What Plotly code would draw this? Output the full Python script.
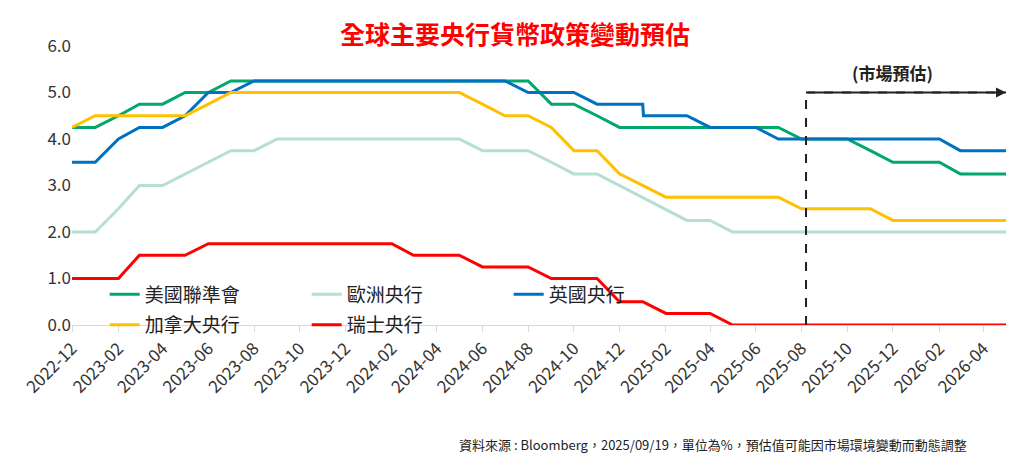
import plotly.graph_objects as go
import pandas as pd

months = pd.date_range("2022-12-01", "2026-05-01", freq="MS")

fed = [4.25, 4.25, 4.5, 4.75, 4.75, 5.0, 5.0, 5.25, 5.25, 5.25, 5.25, 5.25, 5.25, 5.25,
       5.25, 5.25, 5.25, 5.25, 5.25, 5.25, 5.25, 4.75, 4.75, 4.5, 4.25, 4.25, 4.25, 4.25,
       4.25, 4.25, 4.25, 4.25, 4.0, 4.0, 4.0, 3.75, 3.5, 3.5, 3.5, 3.25, 3.25, 3.25]
ecb = [2.0, 2.0, 2.5, 3.0, 3.0, 3.25, 3.5, 3.75, 3.75, 4.0, 4.0, 4.0, 4.0, 4.0,
       4.0, 4.0, 4.0, 4.0, 3.75, 3.75, 3.75, 3.5, 3.25, 3.25, 3.0, 2.75, 2.5, 2.25,
       2.25, 2.0, 2.0, 2.0, 2.0, 2.0, 2.0, 2.0, 2.0, 2.0, 2.0, 2.0, 2.0, 2.0]
boc = [4.25, 4.5, 4.5, 4.5, 4.5, 4.5, 4.75, 5.0, 5.0, 5.0, 5.0, 5.0, 5.0, 5.0,
       5.0, 5.0, 5.0, 5.0, 4.75, 4.5, 4.5, 4.25, 3.75, 3.75, 3.25, 3.0, 2.75, 2.75,
       2.75, 2.75, 2.75, 2.75, 2.5, 2.5, 2.5, 2.5, 2.25, 2.25, 2.25, 2.25, 2.25, 2.25]
snb = [1.0, 1.0, 1.0, 1.5, 1.5, 1.5, 1.75, 1.75, 1.75, 1.75, 1.75, 1.75, 1.75, 1.75,
       1.75, 1.5, 1.5, 1.5, 1.25, 1.25, 1.25, 1.0, 1.0, 1.0, 0.5, 0.5, 0.25, 0.25,
       0.25, 0.0, 0.0, 0.0, 0.0, 0.0, 0.0, 0.0, 0.0, 0.0, 0.0, 0.0, 0.0, 0.0]
# BoE has a same-month cut in 2025-01, so it keeps its own date list
boe_dates = sorted(list(months) + [pd.Timestamp("2025-01-02")])
boe = [3.5, 3.5, 4.0, 4.25, 4.25, 4.5, 5.0, 5.0, 5.25, 5.25, 5.25, 5.25, 5.25, 5.25,
       5.25, 5.25, 5.25, 5.25, 5.25, 5.25, 5.0, 5.0, 5.0, 4.75, 4.75, 4.75, 4.5, 4.5,
       4.5, 4.25, 4.25, 4.25, 4.0, 4.0, 4.0, 4.0, 4.0, 4.0, 4.0, 4.0, 3.75, 3.75, 3.75]

forecast_start = pd.Timestamp("2025-08-07")
forecast_level = 5.0

series = [
    ("美國聯準會", months, fed, "#00A86B", "legend"),
    ("歐洲央行", months, ecb, "#B5DFD1", "legend"),
    ("英國央行", boe_dates, boe, "#0070C0", "legend"),
    ("加拿大央行", months, boc, "#FFC000", "legend2"),
    ("瑞士央行", months, snb, "#FF0000", "legend2"),
]

fig = go.Figure()
for name, x, y, color, leg in series:
    fig.add_trace(go.Scatter(x=x, y=y, name=name, mode="lines", legend=leg,
                             line=dict(color=color, width=3)))

fig.add_shape(type="line", x0=forecast_start, x1=forecast_start, y0=0, y1=forecast_level,
              line=dict(color="#222", width=2, dash="dash"))
fig.add_shape(type="line", x0=forecast_start, x1=months[-1], y0=forecast_level, y1=forecast_level,
              line=dict(color="#222", width=2, dash="dash"))
fig.add_annotation(x=months[-1], y=forecast_level, ax=forecast_start, ay=forecast_level,
                   xref="x", yref="y", axref="x", ayref="y", text="", showarrow=True,
                   arrowhead=2, arrowsize=1, arrowwidth=2, arrowcolor="#222")
fig.add_annotation(x=pd.Timestamp("2025-12-01"), y=forecast_level, yshift=20, text="<b>(市場預估)</b>",
                   showarrow=False, font=dict(size=17, color="#222"))

fig.add_annotation(x=0.96, y=-0.47, xref="paper", yref="paper", xanchor="right", showarrow=False,
                   text="資料來源 : Bloomberg，2025/09/19，單位為%，預估值可能因市場環境變動而動態調整",
                   font=dict(size=13, color="#222"))

leg_common = dict(orientation="h", xanchor="left", yanchor="middle",
                  bgcolor="rgba(0,0,0,0)", font=dict(size=19, color="#222"),
                  entrywidth=157, traceorder="normal")
fig.update_layout(
    width=1014, height=463,
    margin=dict(l=60, r=16, t=38, b=146),
    plot_bgcolor="white", paper_bgcolor="white",
    font=dict(family="Noto Sans CJK TC", color="#333"),
    title=dict(text="全球主要央行貨幣政策變動預估", x=0.5, xanchor="center", y=0.96,
               font=dict(size=25, color="#FF0000", family="Noto Sans CJK TC", weight="bold")),
    legend=dict(x=0.035, y=0.11, **leg_common),
    legend2=dict(x=0.035, y=0.0, **leg_common),
    showlegend=True,
)
fig.update_xaxes(range=[months[0], months[-1]], dtick="M2", tick0="2022-12-01",
                 tickformat="%Y-%m", tickangle=-45, showgrid=False,
                 showline=True, linecolor="#D9D9D9", ticks="outside", tickcolor="#D9D9D9",
                 ticklen=6, tickfont=dict(size=17, color="#333"))
fig.update_yaxes(range=[0, 6], dtick=1, tickformat=".1f", showgrid=False, zeroline=False,
                 tickfont=dict(size=17, color="#333"))

fig.write_html("out.html")
